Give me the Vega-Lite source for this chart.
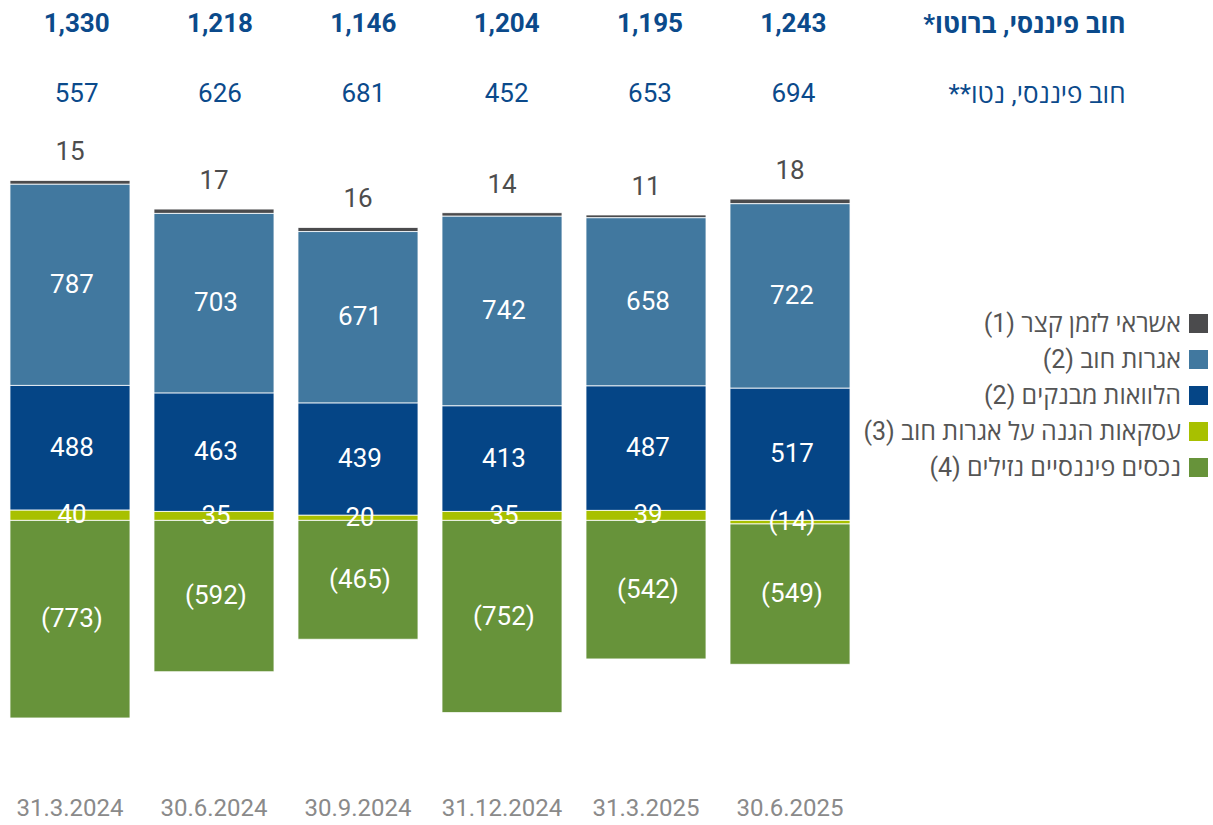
{
  "$schema": "https://vega.github.io/schema/vega-lite/v6.json",
  "padding": {"left": 0, "top": 11, "right": 0, "bottom": 0},
  "background": "white",
  "bounds": "flush",
  "spacing": 43,
  "config": {"view": {"stroke": null}, "font": "Roboto, Open Sans, Liberation Sans, sans-serif"},
  "datasets": {
    "heads": [
      {"date": "31.3.2024", "row": "\u202bחוב פיננסי, ברוטו*\u202c", "kind": "gross", "text": "1,330"},
      {"date": "30.6.2024", "row": "\u202bחוב פיננסי, ברוטו*\u202c", "kind": "gross", "text": "1,218"},
      {"date": "30.9.2024", "row": "\u202bחוב פיננסי, ברוטו*\u202c", "kind": "gross", "text": "1,146"},
      {"date": "31.12.2024", "row": "\u202bחוב פיננסי, ברוטו*\u202c", "kind": "gross", "text": "1,204"},
      {"date": "31.3.2025", "row": "\u202bחוב פיננסי, ברוטו*\u202c", "kind": "gross", "text": "1,195"},
      {"date": "30.6.2025", "row": "\u202bחוב פיננסי, ברוטו*\u202c", "kind": "gross", "text": "1,243"},
      {"date": "31.3.2024", "row": "\u202bחוב פיננסי, נטו**\u202c", "kind": "net", "text": "557"},
      {"date": "30.6.2024", "row": "\u202bחוב פיננסי, נטו**\u202c", "kind": "net", "text": "626"},
      {"date": "30.9.2024", "row": "\u202bחוב פיננסי, נטו**\u202c", "kind": "net", "text": "681"},
      {"date": "31.12.2024", "row": "\u202bחוב פיננסי, נטו**\u202c", "kind": "net", "text": "452"},
      {"date": "31.3.2025", "row": "\u202bחוב פיננסי, נטו**\u202c", "kind": "net", "text": "653"},
      {"date": "30.6.2025", "row": "\u202bחוב פיננסי, נטו**\u202c", "kind": "net", "text": "694"}
    ],
    "bars": [
      {"date": "31.3.2024", "series": "\u202bאשראי לזמן קצר (1)\u202c", "order": 5, "value": 15, "label": "15"},
      {"date": "30.6.2024", "series": "\u202bאשראי לזמן קצר (1)\u202c", "order": 5, "value": 17, "label": "17"},
      {"date": "30.9.2024", "series": "\u202bאשראי לזמן קצר (1)\u202c", "order": 5, "value": 16, "label": "16"},
      {"date": "31.12.2024", "series": "\u202bאשראי לזמן קצר (1)\u202c", "order": 5, "value": 14, "label": "14"},
      {"date": "31.3.2025", "series": "\u202bאשראי לזמן קצר (1)\u202c", "order": 5, "value": 11, "label": "11"},
      {"date": "30.6.2025", "series": "\u202bאשראי לזמן קצר (1)\u202c", "order": 5, "value": 18, "label": "18"},
      {"date": "31.3.2024", "series": "\u202bאגרות חוב (2)\u202c", "order": 4, "value": 787, "label": "787"},
      {"date": "30.6.2024", "series": "\u202bאגרות חוב (2)\u202c", "order": 4, "value": 703, "label": "703"},
      {"date": "30.9.2024", "series": "\u202bאגרות חוב (2)\u202c", "order": 4, "value": 671, "label": "671"},
      {"date": "31.12.2024", "series": "\u202bאגרות חוב (2)\u202c", "order": 4, "value": 742, "label": "742"},
      {"date": "31.3.2025", "series": "\u202bאגרות חוב (2)\u202c", "order": 4, "value": 658, "label": "658"},
      {"date": "30.6.2025", "series": "\u202bאגרות חוב (2)\u202c", "order": 4, "value": 722, "label": "722"},
      {"date": "31.3.2024", "series": "\u202bהלוואות מבנקים (2)\u202c", "order": 3, "value": 488, "label": "488"},
      {"date": "30.6.2024", "series": "\u202bהלוואות מבנקים (2)\u202c", "order": 3, "value": 463, "label": "463"},
      {"date": "30.9.2024", "series": "\u202bהלוואות מבנקים (2)\u202c", "order": 3, "value": 439, "label": "439"},
      {"date": "31.12.2024", "series": "\u202bהלוואות מבנקים (2)\u202c", "order": 3, "value": 413, "label": "413"},
      {"date": "31.3.2025", "series": "\u202bהלוואות מבנקים (2)\u202c", "order": 3, "value": 487, "label": "487"},
      {"date": "30.6.2025", "series": "\u202bהלוואות מבנקים (2)\u202c", "order": 3, "value": 517, "label": "517"},
      {"date": "31.3.2024", "series": "\u202bעסקאות הגנה על אגרות חוב (3)\u202c", "order": 1, "value": 40, "label": "40"},
      {"date": "30.6.2024", "series": "\u202bעסקאות הגנה על אגרות חוב (3)\u202c", "order": 1, "value": 35, "label": "35"},
      {"date": "30.9.2024", "series": "\u202bעסקאות הגנה על אגרות חוב (3)\u202c", "order": 1, "value": 20, "label": "20"},
      {"date": "31.12.2024", "series": "\u202bעסקאות הגנה על אגרות חוב (3)\u202c", "order": 1, "value": 35, "label": "35"},
      {"date": "31.3.2025", "series": "\u202bעסקאות הגנה על אגרות חוב (3)\u202c", "order": 1, "value": 39, "label": "39"},
      {"date": "30.6.2025", "series": "\u202bעסקאות הגנה על אגרות חוב (3)\u202c", "order": 1, "value": -14, "label": "(14)"},
      {"date": "31.3.2024", "series": "\u202bנכסים פיננסיים נזילים (4)\u202c", "order": 2, "value": -773, "label": "(773)"},
      {"date": "30.6.2024", "series": "\u202bנכסים פיננסיים נזילים (4)\u202c", "order": 2, "value": -592, "label": "(592)"},
      {"date": "30.9.2024", "series": "\u202bנכסים פיננסיים נזילים (4)\u202c", "order": 2, "value": -465, "label": "(465)"},
      {"date": "31.12.2024", "series": "\u202bנכסים פיננסיים נזילים (4)\u202c", "order": 2, "value": -752, "label": "(752)"},
      {"date": "31.3.2025", "series": "\u202bנכסים פיננסיים נזילים (4)\u202c", "order": 2, "value": -542, "label": "(542)"},
      {"date": "30.6.2025", "series": "\u202bנכסים פיננסיים נזילים (4)\u202c", "order": 2, "value": -549, "label": "(549)"}
    ]
  },
  "vconcat": [
    {
      "width": 860,
      "height": 70,
      "data": {"name": "heads"},
      "encoding": {
        "x": {"field": "date", "type": "nominal", "sort": null,
              "scale": {"domain": ["31.3.2024", "30.6.2024", "30.9.2024", "31.12.2024", "31.3.2025", "30.6.2025"], "paddingInner": 0.1667, "paddingOuter": 0.0694},
              "axis": null},
        "y": {"field": "row", "type": "nominal", "sort": null,
              "scale": {"type": "point", "padding": 0, "domain": ["\u202bחוב פיננסי, ברוטו*\u202c", "\u202bחוב פיננסי, נטו**\u202c"]},
              "axis": {"orient": "right", "title": null, "domain": false, "ticks": false, "grid": false,
                       "labelPadding": 265, "labelAlign": "right", "labelBaseline": "middle", "labelFontSize": 26, "labelColor": "#0b4a8b", "labelLimit": 400,
                       "labelFontWeight": {"condition": {"test": "datum.value == '\u202bחוב פיננסי, ברוטו*\u202c'", "value": "bold"}, "value": "normal"}}},
        "text": {"field": "text"}
      },
      "layer": [
        {"transform": [{"filter": "datum.kind == 'gross'"}], "mark": {"type": "text", "fontSize": 26, "fontWeight": "bold", "color": "#0b4a8b", "dx": 5}},
        {"transform": [{"filter": "datum.kind == 'net'"}], "mark": {"type": "text", "fontSize": 26, "color": "#0b4a8b", "dx": 5}}
      ]
    },
    {
      "width": 860,
      "height": 639,
      "data": {"name": "bars"},
      "transform": [
        {"stack": "value", "groupby": ["date"], "sort": [{"field": "order"}], "as": ["y0", "y1"]},
        {"calculate": "(datum.y0 + datum.y1) / 2", "as": "mid"}
      ],
      "encoding": {
        "x": {"field": "date", "type": "nominal", "sort": null,
              "scale": {"domain": ["31.3.2024", "30.6.2024", "30.9.2024", "31.12.2024", "31.3.2025", "30.6.2025"], "paddingInner": 0.1667, "paddingOuter": 0.0694},
              "axis": {"title": null, "domain": false, "ticks": false, "grid": false, "labelAngle": 0, "labelFontSize": 24, "labelColor": "#8a8a8a", "labelPadding": 20}}
      },
      "layer": [
        {
          "mark": {"type": "bar", "stroke": "white", "strokeWidth": 0.8},
          "encoding": {
            "y": {"field": "y1", "type": "quantitative", "scale": {"domain": [-1000, 1500], "nice": false, "zero": false}, "axis": null},
            "y2": {"field": "y0"},
            "color": {"field": "series", "type": "nominal",
                      "scale": {"domain": ["\u202bאשראי לזמן קצר (1)\u202c", "\u202bאגרות חוב (2)\u202c", "\u202bהלוואות מבנקים (2)\u202c", "\u202bעסקאות הגנה על אגרות חוב (3)\u202c", "\u202bנכסים פיננסיים נזילים (4)\u202c"],
                                "range": ["#4b4b4d", "#41789f", "#054586", "#a8c000", "#67933a"]},
                      "legend": {"orient": "none", "legendX": 1186, "legendY": 287, "title": null, "padding": 0,
                                 "symbolType": "square", "symbolSize": 361, "symbolStrokeWidth": 0,
                                 "labelFontSize": 25, "labelColor": "#555555", "labelAlign": "right", "labelOffset": -30, "labelLimit": 500,
                                 "rowPadding": 10}}
          }
        },
        {
          "transform": [{"filter": "datum.order != 5"}],
          "mark": {"type": "text", "color": "white", "fontSize": 26, "dx": 2},
          "encoding": {"y": {"field": "mid", "type": "quantitative"}, "text": {"field": "label"}}
        },
        {
          "transform": [{"filter": "datum.order == 5"}],
          "mark": {"type": "text", "color": "#4d4d4d", "fontSize": 26, "dy": -28},
          "encoding": {"y": {"field": "y1", "type": "quantitative"}, "text": {"field": "label"}}
        }
      ]
    }
  ]
}
